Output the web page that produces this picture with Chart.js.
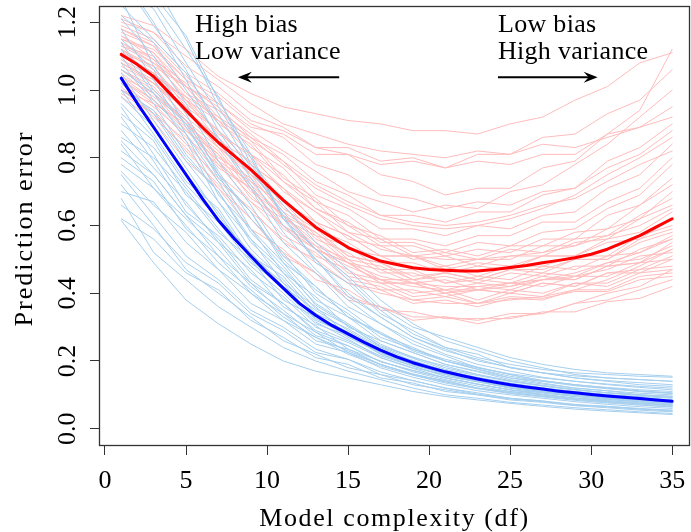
<!DOCTYPE html>
<html>
<head>
<meta charset="utf-8">
<script src="https://cdn.jsdelivr.net/npm/chart.js@4.4.0/dist/chart.umd.min.js"></script>
<style>
  html, body { margin: 0; padding: 0; background: #fff; overflow: hidden; }
  canvas { display: block; }
</style>
</head>
<body>
<canvas id="biasVariance" width="691" height="532"></canvas>
<script>
const dfAll = [1,2,3,4,5,6,7,8,9,10,11,12,13,14,15,16,17,18,19,20,21,22,23,24,25,26,27,28,29,30,31,32,33,34,35];
const dfRuns = [1,3,5,7,9,11,13,15,17,19,21,23,25,27,29,31,33,35];
const xTicks = [0,5,10,15,20,25,30,35];
const yTicks = [0,0.2,0.4,0.6,0.8,1.0,1.2];
const yTickLabels = ['0.0','0.2','0.4','0.6','0.8','1.0','1.2'];

// thick average curves
const testMean = [1.105,1.075,1.04,0.99,0.94,0.89,0.845,0.805,0.765,0.72,0.675,0.635,0.595,0.565,0.535,0.515,0.495,0.485,0.475,0.47,0.468,0.466,0.466,0.47,0.476,0.482,0.49,0.497,0.505,0.515,0.53,0.55,0.57,0.595,0.62];
const trainMean = [1.035,0.96,0.89,0.82,0.75,0.68,0.615,0.56,0.51,0.46,0.415,0.37,0.335,0.305,0.28,0.255,0.232,0.212,0.195,0.181,0.168,0.157,0.147,0.138,0.13,0.123,0.117,0.111,0.106,0.101,0.097,0.093,0.089,0.085,0.081];

// light curves, one per training sample (read at odd df)
const trainRuns = [
  [1.30,1.24,1.08,0.93,0.77,0.63,0.49,0.43,0.34,0.29,0.24,0.22,0.18,0.165,0.15,0.14,0.13,0.125],
  [0.62,0.56,0.46,0.41,0.32,0.27,0.21,0.19,0.15,0.135,0.11,0.10,0.085,0.078,0.068,0.062,0.055,0.05],
  [1.10,0.97,0.87,0.69,0.59,0.46,0.39,0.30,0.26,0.225,0.19,0.17,0.15,0.135,0.12,0.112,0.10,0.096],
  [0.95,0.81,0.66,0.56,0.44,0.37,0.29,0.255,0.21,0.18,0.16,0.14,0.122,0.11,0.10,0.092,0.085,0.08],
  [1.21,1.10,0.96,0.79,0.66,0.51,0.42,0.33,0.28,0.23,0.20,0.175,0.15,0.14,0.13,0.12,0.112,0.106],
  [0.80,0.73,0.59,0.51,0.40,0.34,0.26,0.235,0.19,0.16,0.142,0.12,0.11,0.10,0.09,0.082,0.076,0.07],
  [1.05,0.91,0.77,0.63,0.51,0.45,0.34,0.295,0.24,0.20,0.172,0.15,0.132,0.12,0.11,0.10,0.092,0.085],
  [0.70,0.67,0.55,0.47,0.37,0.32,0.25,0.225,0.18,0.152,0.13,0.112,0.10,0.09,0.08,0.072,0.065,0.06],
  [1.34,1.20,1.03,0.85,0.71,0.55,0.46,0.36,0.31,0.25,0.215,0.18,0.162,0.15,0.14,0.132,0.125,0.12],
  [0.90,0.83,0.71,0.59,0.48,0.40,0.31,0.275,0.22,0.19,0.162,0.14,0.125,0.112,0.10,0.092,0.085,0.08],
  [1.00,0.87,0.73,0.65,0.51,0.43,0.32,0.28,0.22,0.185,0.155,0.138,0.12,0.106,0.095,0.087,0.08,0.075],
  [0.85,0.75,0.63,0.51,0.43,0.34,0.285,0.225,0.19,0.162,0.14,0.12,0.105,0.096,0.086,0.078,0.07,0.065],
  [1.15,1.06,0.89,0.75,0.59,0.49,0.38,0.33,0.26,0.225,0.19,0.168,0.145,0.132,0.12,0.112,0.105,0.10],
  [0.75,0.63,0.51,0.44,0.35,0.30,0.235,0.205,0.168,0.142,0.12,0.106,0.09,0.082,0.072,0.066,0.058,0.052],
  [1.27,1.07,0.93,0.75,0.64,0.49,0.42,0.33,0.285,0.235,0.205,0.182,0.16,0.142,0.13,0.122,0.115,0.11],
  [0.98,0.89,0.75,0.64,0.50,0.41,0.315,0.265,0.21,0.178,0.15,0.132,0.115,0.102,0.09,0.083,0.075,0.07],
  [0.88,0.77,0.67,0.55,0.47,0.36,0.305,0.235,0.20,0.168,0.145,0.126,0.11,0.10,0.09,0.082,0.076,0.07],
  [1.08,0.96,0.81,0.70,0.55,0.46,0.355,0.305,0.245,0.212,0.18,0.16,0.14,0.127,0.115,0.106,0.098,0.092],
  [0.66,0.59,0.49,0.43,0.34,0.29,0.225,0.205,0.16,0.142,0.12,0.102,0.09,0.082,0.07,0.066,0.06,0.055],
  [1.38,1.28,1.16,0.97,0.81,0.62,0.50,0.39,0.33,0.27,0.235,0.20,0.182,0.165,0.156,0.15,0.145,0.14],
  [0.93,0.85,0.69,0.61,0.49,0.42,0.325,0.275,0.225,0.192,0.165,0.147,0.13,0.116,0.105,0.096,0.09,0.085],
  [1.12,0.99,0.85,0.67,0.56,0.43,0.36,0.275,0.235,0.188,0.165,0.143,0.126,0.11,0.10,0.093,0.086,0.08],
  [0.78,0.71,0.62,0.53,0.42,0.35,0.275,0.245,0.198,0.172,0.15,0.132,0.115,0.106,0.095,0.088,0.08,0.075],
  [1.02,0.93,0.79,0.67,0.53,0.44,0.335,0.285,0.228,0.202,0.17,0.152,0.135,0.121,0.11,0.101,0.095,0.09],
  [1.18,1.03,0.87,0.73,0.58,0.48,0.365,0.305,0.242,0.208,0.175,0.157,0.14,0.126,0.115,0.106,0.10,0.095],
  [0.82,0.75,0.63,0.55,0.43,0.37,0.285,0.245,0.198,0.172,0.15,0.131,0.115,0.101,0.09,0.086,0.08,0.072],
  [0.68,0.52,0.44,0.36,0.30,0.24,0.20,0.17,0.145,0.12,0.10,0.09,0.078,0.07,0.062,0.056,0.05,0.045],
  [1.25,1.15,1.05,0.90,0.76,0.64,0.53,0.44,0.35,0.28,0.24,0.21,0.19,0.175,0.165,0.16,0.155,0.152],
  [0.615,0.49,0.38,0.31,0.25,0.20,0.17,0.15,0.13,0.11,0.095,0.085,0.075,0.066,0.058,0.052,0.047,0.042],
  [1.40,1.32,1.15,0.95,0.80,0.62,0.53,0.45,0.36,0.30,0.27,0.24,0.21,0.19,0.175,0.165,0.16,0.155],
  [1.30,1.26,1.12,0.98,0.78,0.66,0.55,0.47,0.38,0.31,0.26,0.23,0.20,0.18,0.16,0.15,0.145,0.14],
  [0.72,0.60,0.47,0.40,0.33,0.26,0.22,0.18,0.16,0.13,0.115,0.10,0.088,0.08,0.07,0.064,0.058,0.054],
  [1.06,0.99,0.90,0.74,0.64,0.50,0.41,0.35,0.28,0.24,0.20,0.18,0.16,0.142,0.13,0.12,0.11,0.105],
  [0.92,0.79,0.64,0.57,0.46,0.39,0.30,0.26,0.215,0.185,0.155,0.14,0.12,0.108,0.098,0.09,0.083,0.078],
  [1.22,1.14,1.00,0.86,0.72,0.58,0.47,0.38,0.31,0.26,0.22,0.19,0.17,0.152,0.14,0.13,0.122,0.115],
  [0.86,0.80,0.70,0.58,0.50,0.38,0.33,0.27,0.225,0.19,0.16,0.14,0.125,0.11,0.10,0.09,0.084,0.078],
  [1.00,0.94,0.80,0.70,0.56,0.47,0.37,0.31,0.25,0.21,0.185,0.16,0.142,0.128,0.116,0.106,0.10,0.094],
  [0.76,0.66,0.58,0.47,0.40,0.32,0.27,0.22,0.185,0.158,0.135,0.118,0.104,0.094,0.084,0.076,0.07,0.064],
  [1.14,1.00,0.91,0.76,0.62,0.52,0.40,0.34,0.27,0.235,0.20,0.176,0.155,0.14,0.127,0.118,0.11,0.104],
  [0.96,0.86,0.72,0.62,0.52,0.42,0.35,0.29,0.235,0.195,0.17,0.15,0.13,0.118,0.106,0.097,0.09,0.084],
  [1.33,1.19,1.06,0.88,0.74,0.60,0.50,0.40,0.33,0.27,0.23,0.205,0.18,0.165,0.15,0.142,0.136,0.13],
  [0.84,0.71,0.60,0.49,0.41,0.33,0.27,0.23,0.19,0.16,0.138,0.12,0.107,0.096,0.087,0.08,0.073,0.067]
];

const testRuns = [
  [1.18,1.13,1.01,0.96,0.89,0.87,0.81,0.81,0.78,0.79,0.77,0.81,0.81,0.86,0.87,0.93,0.97,1.06],
  [1.00,0.93,0.85,0.73,0.65,0.55,0.50,0.43,0.41,0.37,0.38,0.36,0.385,0.38,0.41,0.41,0.45,0.46],
  [1.10,1.05,0.97,0.85,0.79,0.67,0.61,0.53,0.51,0.47,0.48,0.45,0.48,0.48,0.51,0.51,0.57,0.60],
  [1.14,1.09,0.97,0.91,0.81,0.75,0.65,0.61,0.55,0.55,0.52,0.55,0.54,0.58,0.59,0.65,0.69,0.78],
  [1.04,0.97,0.89,0.77,0.71,0.59,0.53,0.45,0.43,0.39,0.40,0.37,0.39,0.385,0.405,0.405,0.44,0.45],
  [1.20,1.17,1.07,1.01,0.93,0.89,0.83,0.81,0.75,0.73,0.69,0.71,0.71,0.77,0.79,0.87,0.94,1.12],
  [1.08,1.03,0.91,0.83,0.71,0.63,0.53,0.49,0.43,0.43,0.40,0.42,0.41,0.44,0.44,0.48,0.49,0.55],
  [1.12,1.04,0.98,0.87,0.81,0.70,0.64,0.56,0.54,0.50,0.51,0.48,0.51,0.51,0.55,0.56,0.62,0.66],
  [0.98,0.91,0.79,0.71,0.59,0.53,0.44,0.41,0.35,0.345,0.325,0.325,0.325,0.345,0.345,0.375,0.385,0.42],
  [1.16,1.11,0.99,0.94,0.85,0.79,0.69,0.65,0.59,0.59,0.57,0.60,0.59,0.63,0.64,0.71,0.75,0.84],
  [1.06,0.99,0.91,0.79,0.73,0.62,0.57,0.49,0.47,0.43,0.44,0.41,0.43,0.42,0.45,0.45,0.49,0.50],
  [1.13,1.08,0.98,0.92,0.83,0.77,0.67,0.63,0.56,0.56,0.54,0.57,0.57,0.61,0.61,0.67,0.71,0.80],
  [1.02,0.95,0.87,0.75,0.67,0.57,0.52,0.44,0.42,0.38,0.39,0.37,0.40,0.39,0.43,0.43,0.47,0.48],
  [1.19,1.15,1.05,0.99,0.91,0.88,0.83,0.83,0.79,0.80,0.77,0.79,0.78,0.81,0.81,0.87,0.89,0.95],
  [1.09,1.02,0.95,0.83,0.76,0.65,0.59,0.51,0.49,0.45,0.46,0.44,0.47,0.46,0.50,0.50,0.55,0.58],
  [1.11,1.07,0.95,0.88,0.78,0.71,0.61,0.57,0.51,0.51,0.47,0.49,0.48,0.51,0.51,0.56,0.58,0.64],
  [1.05,0.98,0.91,0.80,0.74,0.64,0.58,0.50,0.48,0.44,0.45,0.43,0.46,0.45,0.48,0.48,0.53,0.56],
  [1.15,1.11,1.01,0.95,0.86,0.81,0.73,0.69,0.63,0.63,0.61,0.64,0.64,0.69,0.71,0.79,0.83,0.90],
  [1.00,0.96,0.86,0.78,0.67,0.60,0.51,0.47,0.41,0.41,0.39,0.41,0.40,0.43,0.42,0.46,0.46,0.50],
  [1.12,1.07,1.01,0.91,0.85,0.74,0.68,0.60,0.57,0.52,0.53,0.51,0.54,0.54,0.58,0.59,0.66,0.72],
  [1.07,1.02,0.92,0.84,0.73,0.66,0.56,0.52,0.46,0.46,0.43,0.44,0.43,0.46,0.45,0.49,0.50,0.54],
  [1.17,1.13,1.03,0.98,0.90,0.86,0.78,0.75,0.69,0.68,0.65,0.67,0.66,0.70,0.71,0.77,0.81,0.88],
  [1.03,0.96,0.90,0.78,0.71,0.60,0.54,0.46,0.44,0.40,0.41,0.38,0.41,0.40,0.43,0.42,0.46,0.47],
  [1.10,1.05,0.94,0.86,0.75,0.68,0.59,0.55,0.49,0.49,0.46,0.48,0.47,0.51,0.51,0.55,0.56,0.62],
  [1.14,1.08,1.01,0.90,0.84,0.73,0.67,0.58,0.56,0.51,0.52,0.50,0.53,0.52,0.56,0.57,0.63,0.68],
  [1.06,1.01,0.90,0.82,0.70,0.63,0.54,0.50,0.44,0.44,0.41,0.43,0.42,0.45,0.44,0.48,0.49,0.53],
  [0.99,0.93,0.82,0.72,0.62,0.52,0.46,0.39,0.36,0.32,0.33,0.31,0.33,0.34,0.37,0.40,0.42,0.47],
  [1.18,1.14,1.04,0.96,0.88,0.82,0.76,0.70,0.67,0.64,0.66,0.65,0.70,0.72,0.78,0.84,0.92,1.00],
  [1.22,1.19,1.12,1.04,0.99,0.95,0.93,0.91,0.90,0.88,0.88,0.87,0.90,0.92,0.97,1.01,1.08,1.11],
  [1.21,1.17,1.10,1.03,0.96,0.90,0.87,0.84,0.82,0.81,0.80,0.82,0.81,0.84,0.83,0.86,0.89,0.92],
  [1.01,0.92,0.83,0.71,0.62,0.51,0.46,0.38,0.36,0.33,0.33,0.32,0.34,0.34,0.37,0.38,0.41,0.44],
  [1.09,1.04,0.93,0.86,0.75,0.67,0.57,0.54,0.47,0.47,0.43,0.45,0.44,0.48,0.47,0.51,0.52,0.57],
  [1.13,1.10,0.99,0.91,0.81,0.73,0.65,0.60,0.54,0.54,0.51,0.53,0.52,0.56,0.56,0.63,0.66,0.74],
  [1.04,0.99,0.88,0.81,0.68,0.62,0.53,0.49,0.43,0.43,0.40,0.41,0.40,0.43,0.42,0.46,0.47,0.51],
  [1.16,1.09,1.02,0.92,0.86,0.78,0.71,0.66,0.62,0.60,0.59,0.60,0.62,0.65,0.69,0.75,0.80,0.86],
  [1.08,1.02,0.94,0.83,0.75,0.63,0.58,0.51,0.49,0.44,0.46,0.44,0.47,0.47,0.50,0.50,0.56,0.59],
  [1.11,1.05,0.96,0.88,0.78,0.71,0.61,0.57,0.51,0.51,0.48,0.50,0.50,0.54,0.54,0.59,0.62,0.70],
  [1.03,0.97,0.88,0.79,0.69,0.60,0.53,0.48,0.44,0.42,0.41,0.41,0.42,0.44,0.45,0.47,0.51,0.52],
  [1.15,1.12,1.03,0.94,0.87,0.79,0.72,0.67,0.63,0.61,0.60,0.61,0.63,0.66,0.68,0.73,0.78,0.82],
  [1.06,1.00,0.90,0.81,0.72,0.63,0.55,0.49,0.45,0.43,0.42,0.42,0.43,0.44,0.46,0.49,0.52,0.56],
  [1.12,1.06,0.97,0.88,0.80,0.71,0.64,0.58,0.53,0.51,0.50,0.50,0.51,0.52,0.54,0.57,0.60,0.65],
  [1.00,0.94,0.84,0.74,0.64,0.56,0.49,0.43,0.40,0.38,0.37,0.37,0.38,0.39,0.41,0.44,0.48,0.53]
];

const FONT = '26px "Liberation Serif", "DejaVu Serif", serif';

function toPoints(xs, ys) {
  return xs.map((x, i) => ({ x: x, y: ys[i] }));
}

const datasets = [];
datasets.push({ data: toPoints(dfAll, trainMean), borderColor: '#0000ff', borderWidth: 3, order: 0 });
datasets.push({ data: toPoints(dfAll, testMean), borderColor: '#ff0000', borderWidth: 3, order: 0 });
trainRuns.forEach(r => {
  datasets.push({ data: toPoints(dfRuns, r), borderColor: '#a6cfee', borderWidth: 1, order: 1 });
});
testRuns.forEach(r => {
  datasets.push({ data: toPoints(dfRuns, r), borderColor: '#ffbcbc', borderWidth: 1, order: 2 });
});

function arrow(ctx, x0, x1, yy) {
  const dir = Math.sign(x1 - x0);
  ctx.beginPath();
  ctx.moveTo(x0, yy);
  ctx.lineTo(x1 - dir * 4, yy);
  ctx.stroke();
  ctx.beginPath();
  ctx.moveTo(x1, yy);
  ctx.lineTo(x1 - dir * 14, yy - 5.5);
  ctx.lineTo(x1 - dir * 9, yy);
  ctx.lineTo(x1 - dir * 14, yy + 5.5);
  ctx.closePath();
  ctx.fill();
}

const frame = {
  id: 'frame',
  afterDraw(chart) {
    const ctx = chart.ctx;
    const a = chart.chartArea;
    const x = chart.scales.x;
    const y = chart.scales.y;
    ctx.save();
    ctx.strokeStyle = '#333';
    ctx.lineWidth = 1.3;
    ctx.strokeRect(a.left + 0.5, a.top + 0.5, a.right - a.left - 1, a.bottom - a.top);

    ctx.fillStyle = '#000';
    ctx.font = FONT;
    ctx.textAlign = 'center';
    ctx.textBaseline = 'alphabetic';
    xTicks.forEach(v => ctx.fillText(String(v), x.getPixelForValue(v), 488));
    yTicks.forEach((v, i) => {
      ctx.save();
      ctx.translate(75, y.getPixelForValue(v));
      ctx.rotate(-Math.PI / 2);
      ctx.fillText(yTickLabels[i], 0, 0);
      ctx.restore();
    });

    ctx.letterSpacing = '1.6px';
    ctx.fillText('Model complexity (df)', (a.left + a.right) / 2, 526);
    ctx.letterSpacing = '2px';
    ctx.save();
    ctx.translate(32, (a.top + a.bottom) / 2 + 3);
    ctx.rotate(-Math.PI / 2);
    ctx.fillText('Prediction error', 0, 0);
    ctx.restore();

    ctx.letterSpacing = '0.3px';
    ctx.textAlign = 'left';
    ctx.fillText('High bias', x.getPixelForValue(5.55), y.getPixelForValue(1.171));
    ctx.fillText('Low variance', x.getPixelForValue(5.55), y.getPixelForValue(1.093));
    ctx.fillText('Low bias', x.getPixelForValue(24.25), y.getPixelForValue(1.171));
    ctx.fillText('High variance', x.getPixelForValue(24.25), y.getPixelForValue(1.093));

    ctx.strokeStyle = '#000';
    ctx.lineWidth = 2;
    const ay = y.getPixelForValue(1.038);
    arrow(ctx, x.getPixelForValue(14.45), x.getPixelForValue(8.2), ay);
    arrow(ctx, x.getPixelForValue(24.25), x.getPixelForValue(30.4), ay);
    ctx.restore();
  }
};

new Chart(document.getElementById('biasVariance'), {
  type: 'line',
  data: { datasets: datasets },
  options: {
    responsive: false,
    animation: false,
    devicePixelRatio: 1,
    layout: { padding: { top: 6, right: 1, left: 0, bottom: 0 } },
    elements: {
      point: { radius: 0 },
      line: { tension: 0, borderCapStyle: 'round', borderJoinStyle: 'round' }
    },
    plugins: { legend: { display: false }, tooltip: { enabled: false } },
    scales: {
      x: {
        type: 'linear',
        min: -0.37,
        max: 36.1,
        afterBuildTicks: s => { s.ticks = xTicks.map(v => ({ value: v })); },
        afterFit: s => { s.height = 87; },
        grid: { drawOnChartArea: false, tickLength: 10, tickColor: '#333' },
        border: { display: false },
        ticks: { display: false }
      },
      y: {
        type: 'linear',
        min: -0.048,
        max: 1.248,
        afterBuildTicks: s => { s.ticks = yTicks.map(v => ({ value: v })); },
        afterFit: s => { s.width = 99; },
        grid: { drawOnChartArea: false, tickLength: 9, tickColor: '#333' },
        border: { display: false },
        ticks: { display: false }
      }
    }
  },
  plugins: [frame]
});
</script>
</body>
</html>
